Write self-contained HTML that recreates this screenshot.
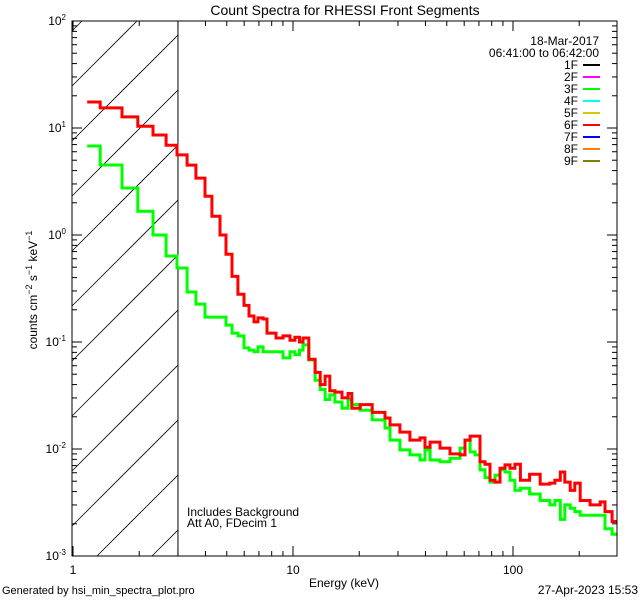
<!DOCTYPE html>
<html><head><meta charset="utf-8"><style>
html,body{margin:0;padding:0;background:#fff;width:640px;height:600px;overflow:hidden;}
svg{display:block;font-family:"Liberation Sans",sans-serif;}
</style></head><body>
<svg id="chart" width="640" height="600" viewBox="0 0 640 600" xmlns="http://www.w3.org/2000/svg">
<rect width="640" height="600" fill="#fff"/>
<text x="345" y="15" font-size="14" text-anchor="middle">Count Spectra for RHESSI Front Segments</text>
<g id="hatch"></g>
<g id="series"></g>
<g id="axes"></g>
<text transform="translate(37,290) rotate(-90)" font-size="12" text-anchor="middle">counts cm<tspan dy="-5" font-size="9">−2</tspan><tspan dy="5"> s</tspan><tspan dy="-5" font-size="9">−1</tspan><tspan dy="5"> keV</tspan><tspan dy="-5" font-size="9">−1</tspan></text>
<text x="344" y="587" font-size="12" text-anchor="middle">Energy (keV)</text>
<text x="187" y="516" font-size="12">Includes Background</text>
<text x="187" y="527" font-size="12">Att A0, FDecim 1</text>
<text x="2" y="594" font-size="11">Generated by hsi_min_spectra_plot.pro</text>
<text x="638" y="594" font-size="12" text-anchor="end">27-Apr-2023 15:53</text>
<text x="599" y="45" font-size="12" text-anchor="end">18-Mar-2017</text>
<text x="599" y="57" font-size="12" text-anchor="end">06:41:00 to 06:42:00</text>
<g id="legend"></g>
</svg>
<script>
const edges=[1.16,1.33,1.67,1.97,2.31,2.65,2.97,3.30,3.62,3.98,4.28,4.66,4.96,5.28,5.62,5.99,6.31,6.65,6.93,7.31,7.62,8.37,9.01,9.69,10.2,10.7,11.1,11.8,12.6,13.3,14.0,14.7,15.5,16.7,17.8,18.5,20.2,22.9,26.2,27.6,30.6,34.0,37.8,39.8,42.0,46.6,51.7,57.4,60.5,63.8,67.2,70.8,74.6,78.6,82.8,87.3,92.0,96.9,102,108,119,133,147,155,164,172,182,191,202,224,249,262,282,297];
const red6F=[17.5,15.4,12.7,10.4,8.6,6.9,5.6,4.5,3.4,2.3,1.5,1.0,0.66,0.41,0.28,0.22,0.175,0.154,0.168,0.164,0.121,0.109,0.114,0.104,0.111,0.100,0.109,0.069,0.052,0.040,0.048,0.035,0.034,0.030,0.033,0.024,0.026,0.022,0.0195,0.0168,0.0144,0.0121,0.0127,0.0104,0.0116,0.0102,0.0090,0.0088,0.0121,0.0132,0.0132,0.0076,0.0072,0.0051,0.0049,0.0066,0.0071,0.0066,0.0072,0.0051,0.0058,0.0047,0.0048,0.0051,0.0061,0.0049,0.0041,0.0048,0.0033,0.0030,0.0032,0.0026,0.0021];
const green3F=[6.79,4.51,2.75,1.67,1.00,0.637,0.492,0.293,0.226,0.171,0.171,0.171,0.144,0.121,0.114,0.088,0.084,0.081,0.090,0.081,0.081,0.081,0.071,0.081,0.076,0.084,0.094,0.068,0.044,0.036,0.029,0.032,0.0275,0.024,0.029,0.026,0.023,0.0187,0.0157,0.0121,0.0098,0.0088,0.0079,0.0098,0.0079,0.0076,0.0082,0.0102,0.0121,0.0094,0.0088,0.0064,0.0054,0.0049,0.0057,0.0064,0.0061,0.0051,0.0041,0.0043,0.0038,0.0033,0.0030,0.0033,0.0022,0.0030,0.0028,0.0026,0.0024,0.0024,0.0024,0.0018,0.0016];
const legendLabels=["1F","2F","3F","4F","5F","6F","7F","8F","9F"];
const legendColors=["#000000","#ff00ff","#00ff00","#00ffff","#d4c800","#ff0000","#0000ff","#ff8000","#808000"];
const xTicks=[1,10,100];
const yExps=[-3,-2,-1,0,1,2];

const NS="http://www.w3.org/2000/svg";
const L=72,R=617,T=21,B=556;
const X0=73,XD=220;
function xs(e){return X0+XD*Math.log10(e);}
function ys(v){return T+(2-Math.log10(v))*(B-T)/5;}
function mk(tag,attrs,parent){const el=document.createElementNS(NS,tag);for(const k in attrs)el.setAttribute(k,attrs[k]);parent.appendChild(el);return el;}

// hatch (lines x+y=c, computed within box)
const hatch=document.getElementById('hatch');
const xh=xs(3);
for(let k=-2;k<14;k++){const c=158+55*k;
 let xa=Math.max(L,c-B), xb=Math.min(xh,c-T);
 if(xb<=xa) continue;
 const ln=mk('line',{x1:xa,y1:c-xa,x2:xb,y2:c-xb,stroke:'#000','stroke-width':0.8},hatch);
 
 }
const vl=mk('line',{x1:xh,y1:T,x2:xh,y2:B,stroke:'#000','stroke-width':1},hatch);



// series
const sg=document.getElementById('series');
function stepPath(vals){let d='';for(let i=0;i<vals.length;i++){const x1=xs(edges[i]),x2=xs(edges[i+1]),y=ys(vals[i]);d+=(i===0?'M':'L')+x1.toFixed(1)+','+y.toFixed(1)+'L'+x2.toFixed(1)+','+y.toFixed(1);}return d;}
const pg=mk('path',{d:stepPath(green3F),fill:'none',stroke:'#00ff00','stroke-width':3},sg);


const pr=mk('path',{d:stepPath(red6F),fill:'none',stroke:'#ff0000','stroke-width':3},sg);



// axes
const ax=document.getElementById('axes');
const fr=mk('rect',{x:L,y:T,width:R-L,height:B-T,fill:'none',stroke:'#000','stroke-width':1},ax);


for(let d=1;d<=100;d*=10){for(let m=1;m<10;m++){const e=d*m;if(e>297)break;const x=xs(e);const len=m===1?10:5;
 mk('line',{x1:x,y1:B,x2:x,y2:B-len,stroke:'#000'},ax);mk('line',{x1:x,y1:T,x2:x,y2:T+len,stroke:'#000'},ax);}}
xTicks.forEach(t=>{const tx=mk('text',{x:xs(t),y:574,'font-size':12,'text-anchor':'middle'},ax);tx.textContent=String(t);
 
 });
yExps.forEach(p=>{for(let m=1;m<10;m++){if(p===2&&m>1)break;const y=ys(m*Math.pow(10,p));const len=m===1?10:5;
 mk('line',{x1:L,y1:y,x2:L+len,y2:y,stroke:'#000'},ax);mk('line',{x1:R,y1:y,x2:R-len,y2:y,stroke:'#000'},ax);}
 const tx=mk('text',{x:66,y:ys(Math.pow(10,p))+4,'font-size':12,'text-anchor':'end'},ax);
 tx.innerHTML='10<tspan dy="-5" font-size="8">'+p+'</tspan>';
 
 });

// legend
const lg=document.getElementById('legend');
legendLabels.forEach((lab,i)=>{const y=65+12*i;
 const t=mk('text',{x:578,y:y+4,'font-size':12,'text-anchor':'end'},lg);t.textContent=lab;
 
 
 const l=mk('line',{x1:583,y1:y,x2:600,y2:y,stroke:legendColors[i],'stroke-width':2},lg);
 
 });
</script>
</body></html>
